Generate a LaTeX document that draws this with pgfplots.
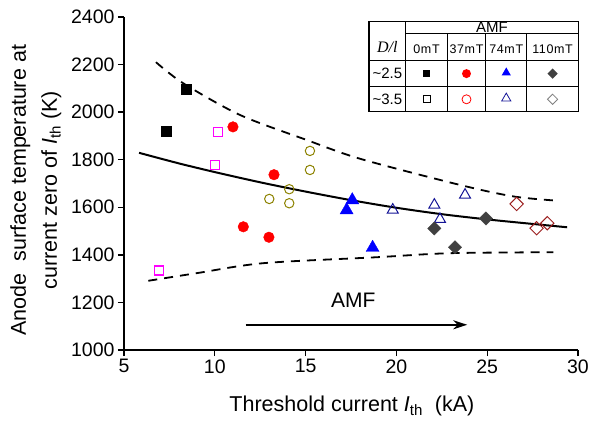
\documentclass[border=0pt]{standalone}
\usepackage{fontspec}
\setmainfont{Liberation Sans}
\newfontfamily\timesfont{Liberation Serif}
\newfontfamily\spacedfont[LetterSpace=5]{Liberation Sans}
\usepackage{pgfplots}
\pgfplotsset{compat=1.18}
\usetikzlibrary{arrows.meta,shapes.geometric}
\definecolor{mkmag}{RGB}{255,0,255}
\definecolor{mkolive}{RGB}{140,130,0}
\definecolor{mknavy}{RGB}{20,20,150}
\definecolor{mkgray}{RGB}{64,64,64}
\definecolor{mkdred}{RGB}{155,30,30}
\definecolor{lggray}{RGB}{128,128,128}

\begin{document}
\begin{tikzpicture}
\begin{axis}[
  name=main, at={(0pt,0pt)}, anchor=south west,
  width=454pt, height=333pt, scale only axis,
  xmin=5, xmax=30, ymin=1000, ymax=2400,
  axis lines=left,
  axis line style={-, line width=1.3pt},
  xtick={5,10,...,30},
  ytick={1000,1200,...,2400},
  tick align=outside, major tick length=6pt,
  tick style={line width=1.3pt, black},
  ticklabel style={font=\fontsize{19.5}{19.5}\selectfont},
  /pgf/number format/assume math mode=true,
  /pgf/number format/1000 sep={},
  clip=false,
  xlabel={Threshold current \textit{I}\textsubscript{th}\ \ (kA)},
  xlabel style={font=\fontsize{21.5}{24}\selectfont,
    at={(axis description cs:0.502,-0.185)}, anchor=base},
  ylabel={Anode\ \ surface temperature at\\current zero of \textit{I}\textsubscript{th} (K)},
  ylabel style={font=\fontsize{21.5}{31}\selectfont, align=center,
    at={(axis description cs:-0.194,0.48)}, anchor=center},
]
  % fitted curve and bounds
  \addplot[black, line width=2pt, smooth] coordinates {
    (5.83,1829) (8,1785) (10,1748) (12.5,1705) (15,1666) (17.5,1630)
    (20,1598) (22.5,1571) (25,1549) (27.5,1530) (29.4,1516)};
  \addplot[black, line width=1.8pt, dash pattern=on 9pt off 7pt, smooth] coordinates {
    (6.76,2210) (8.27,2121) (11.39,1988) (15.06,1883) (18.0,1804)
    (23.5,1694) (26.5,1645) (29.0,1627)};
  \addplot[black, line width=1.8pt, dash pattern=on 9pt off 7pt, smooth] coordinates {
    (6.34,1291) (9.0,1323) (12.67,1365) (18.91,1390) (22.95,1407) (28.64,1411)};

  % 0 mT
  \addplot[only marks, mark=square*, mark size=5pt, black] coordinates {
    (7.35,1918) (8.45,2097)};
  \addplot[only marks, mark=square, mark size=4.5pt, mkmag, line width=1.2pt] coordinates {
    (6.91,1334) (10.03,1777) (10.16,1915)};
  % 37 mT
  \addplot[only marks, mark=*, mark size=5.3pt, red] coordinates {
    (11.0,1938) (11.57,1518) (12.98,1474) (13.26,1737)};
  \addplot[only marks, mark=o, mark size=4.7pt, mkolive, line width=1pt] coordinates {
    (13.0,1635) (14.1,1676) (14.1,1617) (15.24,1837) (15.24,1757)};
  % 74 mT
  \addplot[only marks, mark=triangle*, mark size=7.5pt, blue] coordinates {
    (17.26,1588) (17.57,1630) (18.69,1430)};
  \addplot[only marks, mark=triangle, mark size=6.3pt, mknavy, line width=1pt] coordinates {
    (19.8,1589) (22.09,1610) (22.4,1550) (23.78,1652)};
  % 110 mT
  \addplot[only marks, mark=square*, mark size=4.7pt, mkgray, mark options={rotate=45}] coordinates {
    (22.09,1511) (23.23,1432) (24.93,1553)};
  \addplot[only marks, mark=square, mark size=4.7pt, mkdred, line width=1pt, mark options={rotate=45}] coordinates {
    (26.62,1614) (27.72,1512) (28.31,1533)};

  % AMF arrow
  \draw[line width=2pt, -{Stealth[length=14pt, width=9pt]}]
    (axis cs:11.7,1106) -- (axis cs:23.9,1106);
  \node[font=\fontsize{21}{21}\selectfont] at (axis cs:17.63,1211) {AMF};

  % table legend
  \draw[line width=1.3pt] (axis cs:18.49,2380) rectangle (axis cs:30.02,2002);
  \draw[line width=1pt] (axis cs:20.51,2380) -- (axis cs:20.51,2002);
  \draw[line width=1pt] (axis cs:20.51,2328.6) -- (axis cs:30.02,2328.6);
  \draw[line width=1.3pt] (axis cs:18.49,2216) -- (axis cs:30.02,2216);
  \draw[line width=1pt] (axis cs:18.49,2107) -- (axis cs:30.02,2107);
  \draw[line width=1pt] (axis cs:22.80,2328.6) -- (axis cs:22.80,2002);
  \draw[line width=1pt] (axis cs:24.92,2328.6) -- (axis cs:24.92,2002);
  \draw[line width=1pt] (axis cs:27.17,2328.6) -- (axis cs:27.17,2002);
  \node[font=\timesfont\itshape\fontsize{16}{16}\selectfont] at (axis cs:19.5,2272) {D/l};
  \node[font=\fontsize{15}{15}\selectfont] at (axis cs:25.26,2355) {AMF};
  \node[font=\spacedfont\fontsize{12.5}{12.5}\selectfont] at (axis cs:21.66,2266) {0mT};
  \node[font=\spacedfont\fontsize{12.5}{12.5}\selectfont] at (axis cs:23.86,2266) {37mT};
  \node[font=\spacedfont\fontsize{12.5}{12.5}\selectfont] at (axis cs:26.05,2266) {74mT};
  \node[font=\spacedfont\fontsize{12.5}{12.5}\selectfont] at (axis cs:28.6,2266) {110mT};
  \node[font=\fontsize{15}{15}\selectfont] at (axis cs:19.5,2162) {\textasciitilde2.5};
  \node[font=\fontsize{15}{15}\selectfont] at (axis cs:19.5,2054) {\textasciitilde3.5};
  \node[fill=black, minimum size=7pt, inner sep=0pt] at (axis cs:21.66,2162) {};
  \node[circle, fill=red, minimum size=9pt, inner sep=0pt] at (axis cs:23.86,2162) {};
  \node[regular polygon, regular polygon sides=3, fill=blue, minimum size=10.5pt, inner sep=0pt] at (axis cs:26.05,2166) {};
  \node[diamond, fill=mkgray, minimum size=10.5pt, inner sep=0pt] at (axis cs:28.6,2162) {};
  \node[draw=black, line width=0.8pt, minimum size=7pt, inner sep=0pt] at (axis cs:21.66,2054) {};
  \node[circle, draw=red, line width=0.8pt, minimum size=9pt, inner sep=0pt] at (axis cs:23.86,2054) {};
  \node[regular polygon, regular polygon sides=3, draw=mknavy, line width=0.8pt, minimum size=10.5pt, inner sep=0pt] at (axis cs:26.05,2058) {};
  \node[diamond, draw=lggray, line width=0.8pt, minimum size=10.5pt, inner sep=0pt] at (axis cs:28.6,2054) {};
\end{axis}
\pgfresetboundingbox
\path (-124pt,-73pt) rectangle (465pt,350pt);
\end{tikzpicture}
\end{document}
